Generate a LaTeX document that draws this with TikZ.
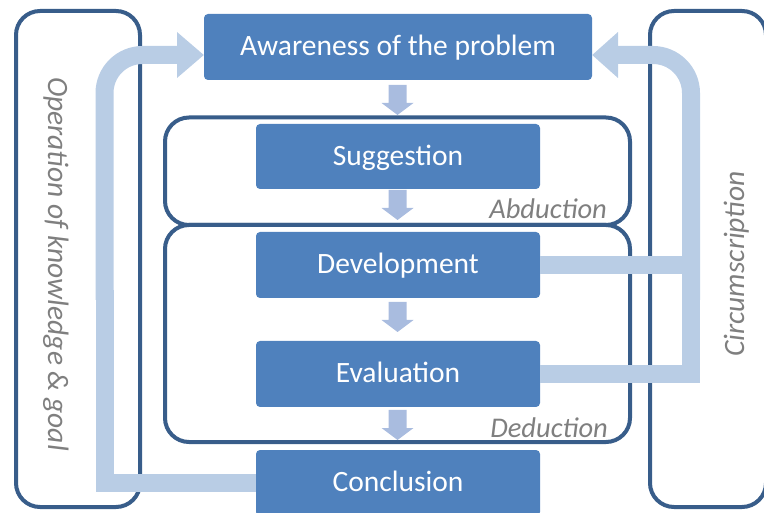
\documentclass[tikz,border=0pt]{standalone}
\usepackage{fontspec}
\setmainfont{Carlito}
\begin{document}
\begin{tikzpicture}[x=1pt,y=-1pt,
  boxblue/.style={fill=blkfill, draw=none, rounded corners=4pt, text=white,
    font=\fontsize{29.5}{34}\selectfont, text height=22pt, text depth=4.5pt,
    inner sep=0pt},
  frame/.style={draw=framecol, line width=4pt, rounded corners=24pt},
  band/.style={draw=bandcol, line width=18pt, line join=miter, line cap=butt},
  bandhead/.style={fill=bandcol},
  lbl/.style={text=lblcol, font=\fontsize{28.5}{34}\selectfont\itshape, inner sep=0pt},
  sidelbl/.style={lbl, font=\fontsize{29.5}{34}\selectfont\itshape},
  stepdown/.pic={\fill[fill=arrcol] (-9,-30) -- (9,-30) -- (9,-12) -- (16,-12)
      -- (0,0) -- (-16,-12) -- (-9,-12) -- cycle;}
]
\definecolor{blkfill}{HTML}{4F81BD}
\definecolor{framecol}{HTML}{385D8A}
\definecolor{bandcol}{HTML}{B9CDE5}
\definecolor{arrcol}{HTML}{A9BCDF}
\definecolor{lblcol}{HTML}{7F7F7F}

\useasboundingbox (0,0) rectangle (764,513);

% outer and inner frames
\draw[frame] (16,11) rectangle (140,507);
\draw[frame] (650,11) rectangle (766,507);
\draw[frame] (165,117.5) rectangle (630,225);
\draw[frame] (165,225) rectangle (630,442);

% process boxes
\node[boxblue, minimum width=388pt, minimum height=66pt] (aw)  at (398,47)    {Awareness of the problem};
\node[boxblue, minimum width=284pt, minimum height=65pt] (sug) at (398,156.5) {Suggestion};
\node[boxblue, minimum width=284pt, minimum height=66pt] (dev) at (398,265)   {Development};
\node[boxblue, minimum width=284pt, minimum height=66pt] (ev)  at (398,374)   {Evaluation};
\node[boxblue, minimum width=284pt, minimum height=66pt] (con) at (398,483)   {Conclusion};

% feedback bands
\coordinate (lt) at (104.5,55);
\coordinate (rt) at (691,55);

\draw[band] (con.west) -- (con.west -| lt) -- (104.5,290);
\draw[band, rounded corners=38pt] (104.5,300) -- (lt) -- (180,55);
\fill[bandhead] (177,32) -- (aw.west |- lt) -- (177,78) -- cycle;

\draw[band] (dev.east) -- (700,265);
\draw[band] (ev.east) -- (ev.east -| rt) -- (691,290);
\draw[band, rounded corners=38pt] (691,300) -- (rt) -- (615,55);
\fill[bandhead] (618,32) -- (aw.east |- rt) -- (618,78) -- cycle;

% step arrows
\pic at (397.5,115) {stepdown};
\pic at (397.5,220) {stepdown};
\pic at (397.5,332) {stepdown};
\pic at (397.5,440) {stepdown};

% labels
\node[lbl, anchor=base east] (abd) at (607,219) {Abduction};
\node[lbl, anchor=base east] (ded) at (608,437) {Deduction};
\node[sidelbl, rotate=-90, anchor=base] (okg) at (48,264) {Operation of knowledge \& goal};
\node[sidelbl, rotate=90, anchor=base] (circ) at (744,264) {Circumscription};
\end{tikzpicture}
\end{document}
